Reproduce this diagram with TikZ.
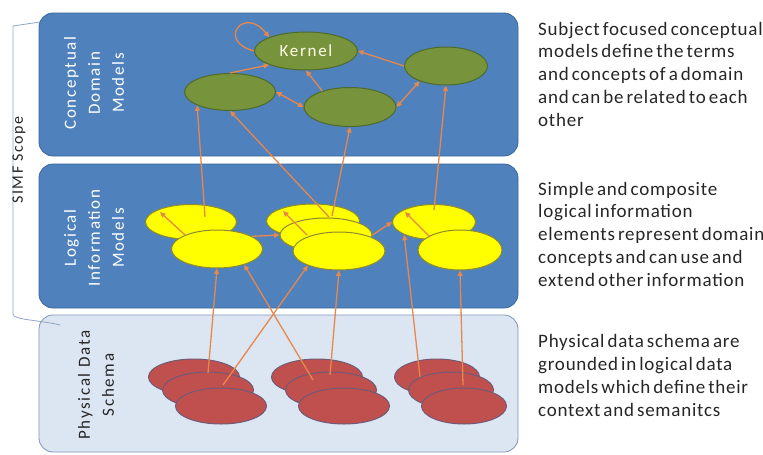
\documentclass[tikz,border=0pt]{standalone}
\usepackage{fontspec}
\setmainfont{Carlito}[LetterSpace=10]
\newfontfamily\descfont{Carlito}[LetterSpace=4,WordSpace=0.6]
\usetikzlibrary{shapes.geometric,arrows.meta,calc}

\definecolor{panelc}{HTML}{4F81BD}
\definecolor{panelb}{HTML}{3A679C}
\definecolor{physc}{HTML}{DCE6F2}
\definecolor{physb}{HTML}{7F97BA}
\definecolor{greenc}{HTML}{77933C}
\definecolor{greenb}{HTML}{4E6B2A}
\definecolor{yellc}{HTML}{FFFF00}
\definecolor{yellb}{HTML}{8E8A2E}
\definecolor{redc}{HTML}{C0504D}
\definecolor{redb}{HTML}{6F5A78}
\definecolor{arrc}{HTML}{E8874A}
\definecolor{brkc}{HTML}{8FA3C4}
\definecolor{txtc}{HTML}{262626}

\begin{document}
\begin{tikzpicture}[x=1pt,y=-1pt,>={Triangle[length=5.5pt,width=5pt]},
    panel/.style={draw=panelb,fill=panelc,line width=0.8pt,rounded corners=14pt},
    lbl/.style={rotate=90,align=center,font=\fontsize{17}{24}\selectfont,text=white},
    cdm/.style={ellipse,draw=greenb,fill=greenc,line width=1pt,inner sep=0pt},
    lim/.style={ellipse,draw=yellb,fill=yellc,line width=1pt,inner sep=0pt},
    pds/.style={ellipse,draw=redb,fill=redc,line width=1pt,inner sep=0pt,minimum height=36pt},
    arr/.style={->,draw=arrc,line width=1.3pt},
    desc/.style={anchor=base west,align=left,inner sep=0pt,text=txtc,
      font=\descfont\fontsize{19}{22.7}\selectfont}]

    \useasboundingbox (0,0) rectangle (763,455);

    % layers
    \draw[panel] (39,13) rectangle (518,156);
    \draw[panel] (39,164) rectangle (518,308);
    \draw[panel,draw=physb,fill=physc] (39,315) rectangle (518,452);

    \node[lbl] (clbl) at (94,83) {Conceptual\\Domain\\Models};
    \node[lbl] (llbl) at (94,238) {Logical\\Information\\Models};
    \node[lbl,text=txtc] (plbl) at (96,385) {Physical Data\\Schema};

    % scope bracket
    \draw[brkc,line width=0.8pt] (40,22) -- (13,26) -- (13,314)
        .. controls (13,320) and (40,320) .. (60,325);
    \node[rotate=90,font=\fontsize{16}{18}\selectfont,text=txtc] (scope) at (19,160) {SIMF Scope};

    % conceptual domain models
    \node[cdm,minimum width=103pt,minimum height=38pt,text=white!92!yellow,
          font=\fontsize{17}{20}\selectfont] (gk) at (306,51) {Kernel};
    \node[cdm,minimum width=83pt,minimum height=38pt] (gr) at (446,66) {};
    \node[cdm,minimum width=91pt,minimum height=37pt] (gl) at (230,92) {};
    \node[cdm,minimum width=92pt,minimum height=39pt] (gm) at (350,107) {};

    % logical information models
    \node[lim,minimum width=91pt,minimum height=35pt] (yl1) at (191,222) {};
    \node[lim,minimum width=91pt,minimum height=38pt] (yl2) at (217,249) {};
    \node[lim,minimum width=93pt,minimum height=34pt] (ym1) at (313,221) {};
    \node[lim,minimum width=92pt,minimum height=34pt] (ym2) at (326,235) {};
    \node[lim,minimum width=92pt,minimum height=38pt] (ym3) at (339,251) {};
    \node[lim,minimum width=83pt,minimum height=35pt] (yr1) at (434,222) {};
    \node[lim,minimum width=84pt,minimum height=40pt] (yr2) at (460,250) {};

    % physical data schema
    \foreach \g/\x/\w in {l/194/91,m/317/91,r/437/85}
      \foreach \i/\dx/\dy in {1/0/0,2/14/13,3/27/29}
        \node[pds,minimum width=\w pt] (r\g\i) at (\x+\dx,377+\dy) {};

    % links between concepts
    \draw[arr] (gk.west) .. controls +(-38,-10) and +(-25,-32) .. (gk.north west);
    \draw[arr] (gl.north) -- (gk.south west);
    \draw[arr] (gm.150) -- (gk.south);
    \draw[arr] (gr.west) -- (gk.east);
    \draw[arr,<->] (gl.east) -- (gm.west);
    \draw[arr,<->] (gm.east) -- (gr.210);

    % logical to conceptual
    \draw[arr] ($(yl1)+(14,-5)$) -- (gl.202);
    \draw[arr] ($(ym1)+(16,-4)$) -- (gl.south);
    \draw[arr] ($(ym1)+(19,-5)$) -- (gm.south);
    \draw[arr] ($(yr1)+(0,-12)$) -- (gr.south);

    \draw[arr] ($(yl2)+(-32,-14)$) -- ($(yl1)+(-31,-10)$);
    \draw[arr] ($(ym3)+(-32,-16)$) -- ($(ym1)+(-30,-10)$);
    \draw[arr] ($(yr2)+(-30,-13)$) -- ($(yr1)+(-29,-10)$);
    \draw[arr] (yl2.20) -- (ym2.west);
    \draw[arr] (ym2.east) -- (yr1.west);

    % physical to logical
    \draw[arr] ($(rl1)+(14,-4)$) -- (yl2.south);
    \draw[arr] ($(rm2)+(-18,-10)$) -- (yl2.-30);
    \draw[arr] ($(rl2)+(15,-5)$) -- (ym3.-155);
    \draw[arr] ($(rm1)+(13,-2)$) -- (ym3.south);
    \draw[arr] ($(rr1)+(-17,0)$) -- (yr1.-157);
    \draw[arr] ($(rr2)+(12,-5)$) -- (yr2.south);

    % descriptions (base = last line)
    \node[desc] (d1) at (538,126) {Subject focused conceptual\\models define the terms\\and concepts of a domain\\and can be related to each\\other};
    \node[desc] (d2) at (538,286) {Simple and composite\\logical information\\elements represent domain\\concepts and can use and\\extend other information};
    \node[desc] (d3) at (538,416) {Physical data schema are\\grounded in logical data\\models which define their\\context and semanitcs};
\end{tikzpicture}
\end{document}
